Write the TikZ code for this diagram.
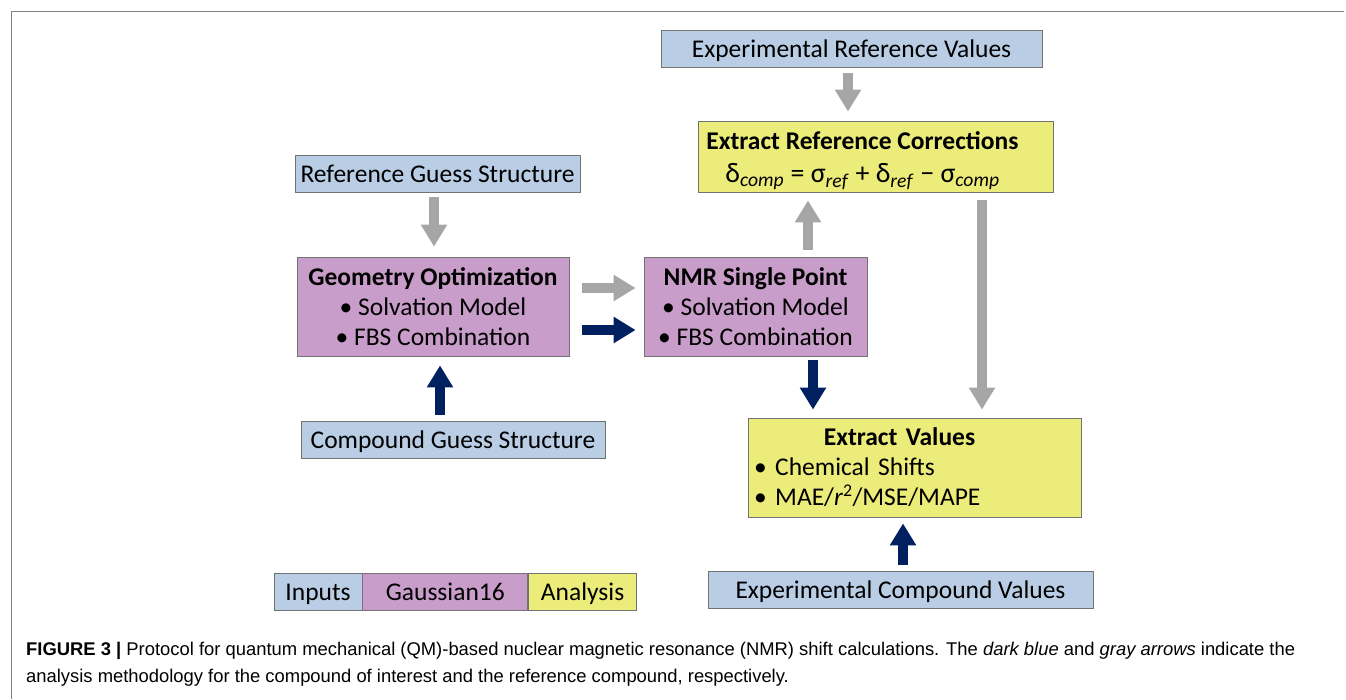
\documentclass[tikz,border=0pt]{standalone}
\usepackage{fontspec}
\setmainfont{Carlito}
\newfontfamily\capfont{Liberation Sans}
\usetikzlibrary{positioning, arrows.meta}

\definecolor{inpblue}{RGB}{185,205,229}
\definecolor{gaupurple}{RGB}{201,157,201}
\definecolor{anayellow}{RGB}{236,236,122}
\definecolor{darkarrow}{RGB}{0,32,96}
\definecolor{grayarrow}{RGB}{166,166,166}
\definecolor{framegray}{RGB}{128,128,128}

\begin{document}
\begin{tikzpicture}[x=1pt, y=-1pt,
     node distance = 0pt and 0pt,
        box/.style = {rectangle, draw=gray!90!black, line width=0.8pt, fill=#1,
                     inner sep=2pt, font=\fontsize{25.5}{30}\selectfont},
       wide/.style = {minimum width=#1pt},
      short/.style = {minimum height=37pt, text height=18pt, text depth=0pt},
       tall/.style = {minimum height=99pt},
     garrow/.style = {line width=10pt, grayarrow, -{Triangle[width=25pt,length=22pt]}},
     barrow/.style = {line width=10pt, darkarrow, -{Triangle[width=25pt,length=22pt]}}
                        ]
\useasboundingbox (0,0) rectangle (1346,699);
% frame
\draw[framegray, line width=1.5pt] (11.5,699) -- (11.5,11.5) -- (1344,11.5);

% inputs
\node (expref)   [box=inpblue, wide=381, short] at (851.5,48.5) {Experimental Reference Values};
\node (refguess) [box=inpblue, wide=285, short] at (437.5,173.5) {Reference Guess Structure};
\node (cmpguess) [box=inpblue, wide=304, short] at (453,439.5) {Compound Guess Structure};
\node (expcmp)   [box=inpblue, wide=385, short] at (900.5,589.5) {Experimental Compound Values};

% gaussian
\node (geom) [box=gaupurple, wide=272, tall, align=center] at (433,306.5)
      {\textbf{Geometry Optimization}\\ •\ Solvation Model\\ •\ FBS Combination};
\node (nmr)  [box=gaupurple, wide=223, tall, align=center] at (755.5,306.5)
      {\textbf{NMR Single Point}\\ •\ Solvation Model\\ •\ FBS Combination};

% analysis
\node (refcorr) [box=anayellow, wide=355, minimum height=71pt, align=center,
                 font=\fontsize{25.5}{37}\selectfont] at (875.5,156.5)
      {\rule{0pt}{26pt}\textbf{Extract Reference Corrections}\hspace*{26pt}\\[-4pt]
       {\fontsize{28}{37}\selectfont δ\textsubscript{\textit{comp}} = σ\textsubscript{\textit{ref}} + δ\textsubscript{\textit{ref}} − σ\textsubscript{\textit{comp}}}\hspace*{26pt}};
\node (extract) [box=anayellow, wide=333, tall, text width=321pt] at (914.5,467.5)
      {{\centering\textbf{Extract Values}\hspace*{30pt}\par}
       •\ Chemical Shifts\\ •\ MAE/\textit{r}\textsuperscript{2}/MSE/MAPE};

% legend
\node (inputs)   [box=inpblue, wide=88, short] at (318,591.5) {Inputs};
\node (gaussian) [box=gaupurple, wide=165, short, right=of inputs] {Gaussian16};
\node (analysis) [box=anayellow, wide=108, short, right=of gaussian] {Analysis};

% arrows
\draw[garrow, shorten <=6pt, shorten >=9pt] ([xshift=-3.5pt]expref.south) -- ([xshift=-3.5pt]expref.south |- refcorr.north);
\draw[garrow, shorten <=5pt, shorten >=10pt] ([xshift=-3.5pt]refguess.south) -- ([xshift=-3.5pt]refguess.south |- geom.north);
\draw[garrow, shorten <=13pt, shorten >=8pt] ([yshift=18.5pt]geom.east) -- ([yshift=18.5pt]geom.east -| nmr.west);
\draw[barrow, shorten <=13pt, shorten >=8pt] ([yshift=-23.5pt]geom.east) -- ([yshift=-23.5pt]geom.east -| nmr.west);
\draw[garrow, shorten <=7pt, shorten >=8pt] ([xshift=52.5pt]nmr.north) -- ([xshift=52.5pt]nmr.north |- refcorr.south);
\draw[barrow, shorten <=4pt, shorten >=8pt] ([xshift=57.5pt]nmr.south) -- ([xshift=57.5pt]nmr.south |- extract.north);
\draw[garrow, shorten <=8pt, shorten >=8pt] ([xshift=106.5pt]refcorr.south) -- ([xshift=106.5pt]refcorr.south |- extract.north);
\draw[barrow, shorten <=6pt, shorten >=9pt] ([xshift=-13pt]cmpguess.north) -- ([xshift=-13pt]cmpguess.north |- geom.south);
\draw[barrow, shorten <=6pt, shorten >=6pt] ([xshift=2.5pt]expcmp.north) -- ([xshift=2.5pt]expcmp.north |- extract.south);

% caption
\node (caption) [anchor=north west, align=left, inner sep=0pt,
                 font=\capfont\fontsize{18.4}{27}\selectfont] at (26,642)
      {\textbf{FIGURE 3 |} Protocol for quantum mechanical (QM)-based nuclear magnetic resonance (NMR) shift calculations. The \textit{dark blue} and \textit{gray arrows} indicate the\\
       analysis methodology for the compound of interest and the reference compound, respectively.};
\end{tikzpicture}
\end{document}
